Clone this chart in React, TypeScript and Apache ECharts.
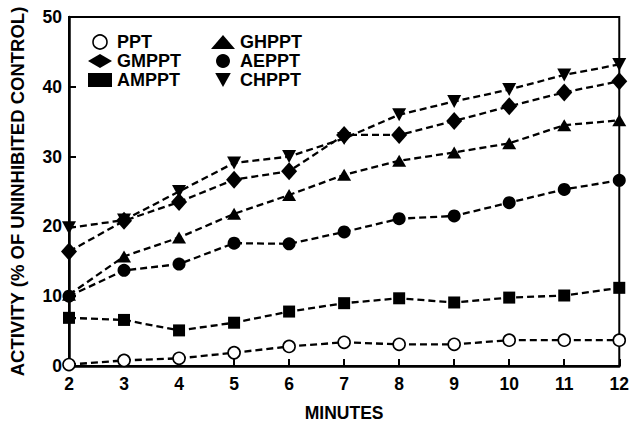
import React, { useEffect, useRef } from "react";
import * as echarts from "echarts";

const minutes = [2, 3, 4, 5, 6, 7, 8, 9, 10, 11, 12];
const PPT = [0.2, 0.8, 1.1, 1.9, 2.8, 3.4, 3.1, 3.1, 3.7, 3.7, 3.7];
const GMPPT = [16.4, 20.8, 23.5, 26.7, 27.9, 33.1, 33.1, 35.1, 37.2, 39.2, 40.8];
const AMPPT = [6.9, 6.6, 5.1, 6.2, 7.8, 9.0, 9.7, 9.1, 9.8, 10.1, 11.2];
const GHPPT = [10.2, 15.7, 18.4, 21.8, 24.5, 27.4, 29.4, 30.6, 31.9, 34.5, 35.2];
const AEPPT = [10.0, 13.7, 14.6, 17.6, 17.5, 19.2, 21.1, 21.5, 23.4, 25.3, 26.6];
const CHPPT = [19.8, 20.9, 25.0, 29.1, 30.0, 32.6, 36.0, 37.9, 39.6, 41.7, 43.2];

const yTicks = [0, 10, 20, 30, 40, 50];

const FONT = "'Liberation Sans', Arial, Helvetica, sans-serif";
const INV_TRI = "path://M0,0 L10,0 L5,9 Z";

export default function App() {
  const ref = useRef<HTMLDivElement>(null);
  useEffect(() => {
    if (!ref.current) return;
    const chart = echarts.init(ref.current, undefined, { renderer: "svg" });
    const pair = (arr: number[]) => minutes.map((m, i) => [m, arr[i]]);
    const lineStyle = { color: "#000", width: 2.3, type: [7, 4] as any };
    const mk = (name: string, data: number[], symbol: string, size: any, itemStyle: any, z = 2) => ({
      name,
      type: "line",
      data: pair(data),
      symbol,
      symbolSize: size,
      showAllSymbol: true,
      lineStyle,
      itemStyle,
      z,
      clip: false,
    });
    const filled = { color: "#000" };
    const open = { color: "#fff", borderColor: "#000", borderWidth: 1.6 };
    const legendText = { fontFamily: FONT, fontWeight: "bold", fontSize: 18, color: "#000" };
    const legendBase = {
      orient: "vertical",
      top: 33,
      padding: 0,
      itemWidth: 24,
      itemHeight: 14,
      itemGap: 1,
      textStyle: legendText,
    };
    chart.setOption({
      animation: false,
      backgroundColor: "#fff",
      grid: {
        left: 69,
        right: 11,
        top: 17,
        bottom: 60,
        show: true,
        borderColor: "#000",
        borderWidth: 2,
        backgroundColor: "transparent",
      },
      legend: [
        {
          ...legendBase,
          left: 88,
          data: [
            { name: "PPT", icon: "circle", itemStyle: open },
            { name: "GMPPT", icon: "diamond", itemStyle: filled },
            { name: "AMPPT", icon: "rect", itemStyle: filled },
          ],
        },
        {
          ...legendBase,
          left: 211,
          data: [
            { name: "GHPPT", icon: "triangle", itemStyle: filled },
            { name: "AEPPT", icon: "circle", itemStyle: filled },
            { name: "CHPPT", icon: INV_TRI, itemStyle: filled },
          ],
        },
      ],
      xAxis: {
        type: "value",
        min: 2,
        max: 12,
        interval: 1,
        name: "MINUTES",
        nameLocation: "middle",
        nameGap: 38,
        nameTextStyle: { fontFamily: FONT, fontWeight: "bold", fontSize: 17.5, color: "#000" },
        axisLine: { show: true, lineStyle: { color: "#000", width: 2.5 } },
        axisTick: { show: true, inside: true, length: 7, lineStyle: { color: "#000", width: 2 } },
        axisLabel: { fontFamily: FONT, fontWeight: "bold", fontSize: 17.5, color: "#000", margin: 9 },
        splitLine: { show: false },
      },
      yAxis: {
        type: "value",
        min: yTicks[0],
        max: yTicks[yTicks.length - 1],
        interval: 10,
        name: "ACTIVITY (% OF UNINHIBITED CONTROL)",
        nameLocation: "middle",
        nameRotate: 90,
        nameGap: 42,
        nameTextStyle: { fontFamily: FONT, fontWeight: "bold", fontSize: 18.5, color: "#000" },
        axisLine: { show: true, lineStyle: { color: "#000", width: 2.5 } },
        axisTick: { show: true, inside: true, length: 7, lineStyle: { color: "#000", width: 2 } },
        axisLabel: { fontFamily: FONT, fontWeight: "bold", fontSize: 17.5, color: "#000", margin: 7 },
        splitLine: { show: false },
      },
      series: [
        mk("PPT", PPT, "circle", 12, open, 2),
        mk("AMPPT", AMPPT, "rect", 12, filled, 2),
        mk("AEPPT", AEPPT, "circle", 13, filled, 2),
        mk("GHPPT", GHPPT, "triangle", [14, 12], filled, 2),
        mk("CHPPT", CHPPT, INV_TRI, [14, 13], filled, 2),
        mk("GMPPT", GMPPT, "diamond", [16, 18], filled, 3),
      ],
    });
    return () => chart.dispose();
  }, []);
  return (
    <div
      ref={ref}
      style={{ position: "fixed", left: 0, top: 0, width: 632, height: 427 }}
    />
  );
}
